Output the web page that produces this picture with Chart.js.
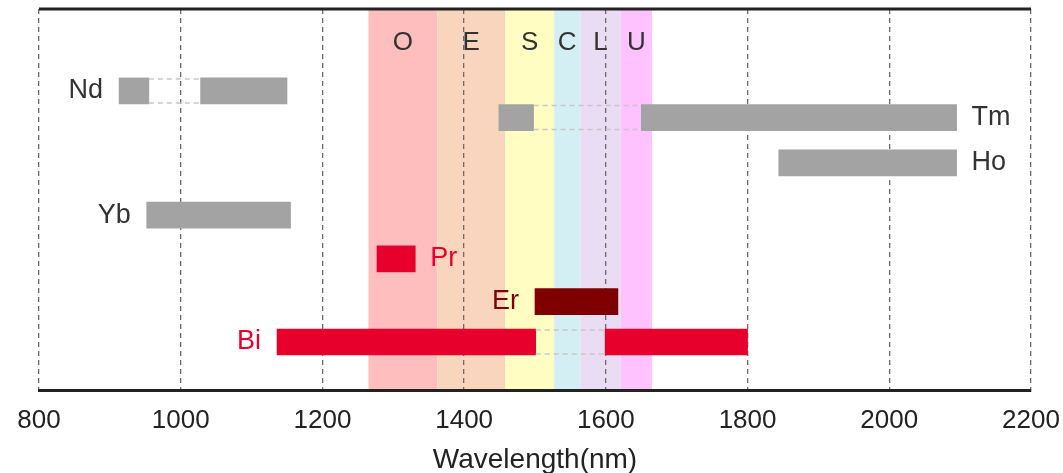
<!DOCTYPE html>
<html>
<head>
<meta charset="utf-8">
<script src="https://cdn.jsdelivr.net/npm/chart.js@4"></script>
<style>
  body { margin: 0; background: #fff; }
  #wrap { width: 1063px; height: 473px; }
</style>
</head>
<body>
<div id="wrap"><canvas id="myChart"></canvas></div>
<script>
// telecom bands (nm)
const bandNames = ["O", "E", "S", "C", "L", "U"];
const bandEdges = [1265, 1362, 1458, 1527, 1564, 1621, 1665];
const bandColors = ["#FFBEBE", "#F8D5BC", "#FFFDC2", "#D3EFF4", "#E9DCF3", "#FDC2FF"];

// dopants, their row level (top = 0) and gain ranges (nm)
const ions = ["Nd", "Tm", "Ho", "Yb", "Pr", "Er", "Bi"];
const ionLevel = [2.15, 2.85, 4.04, 5.41, 6.56, 7.68, 8.74];
const ionRanges = [
  [[913, 955], [1028, 1150]],
  [[1449, 1498], [1650, 2095]],
  [[1844, 2095]],
  [[952, 1155]],
  [[1277, 1331]],
  [[1500, 1617]],
  [[1136, 1501], [1599, 1800]]
];
const ionGroup = ["gray", "gray", "gray", "gray", "red", "dark", "red"];
const labelSide = ["left", "right", "right", "left", "right", "left", "left"];

const xTicks = [800, 1000, 1200, 1400, 1600, 1800, 2000, 2200];

const groupColors = { gray: "#A3A3A3", red: "#E8002D", dark: "#7F0000" };
const textColors = { gray: "#333333", red: "#E8002D", dark: "#7F0000" };
const FONT = "'Liberation Sans', Arial, sans-serif";
const BAR_H = 26;

// Build one bar dataset per colour group
function groupData(group) {
  const out = [];
  ions.forEach((ion, i) => {
    if (ionGroup[i] !== group) return;
    ionRanges[i].forEach((r) => out.push({ x: r, y: ionLevel[i] }));
  });
  return out;
}

const datasets = Object.keys(groupColors).map((g) => ({
  label: g,
  data: groupData(g),
  backgroundColor: groupColors[g],
  borderWidth: 0,
  barThickness: BAR_H,
  grouped: false
}));

// Coloured band backgrounds, drawn under the grid
const bandPlugin = {
  id: "bands",
  beforeDraw(chart) {
    const { ctx, chartArea, scales } = chart;
    ctx.save();
    bandNames.forEach((b, i) => {
      const x1 = scales.x.getPixelForValue(bandEdges[i]);
      const x2 = scales.x.getPixelForValue(bandEdges[i + 1]);
      ctx.fillStyle = bandColors[i];
      ctx.fillRect(x1, chartArea.top, x2 - x1, chartArea.bottom - chartArea.top);
    });
    ctx.restore();
  },
  afterDatasetsDraw(chart) {
    const { ctx, chartArea, scales } = chart;
    ctx.save();

    // dashed outline of the gaps between segments
    ctx.strokeStyle = "#C8C8C8";
    ctx.lineWidth = 1.5;
    ctx.setLineDash([5, 4]);
    ions.forEach((ion, i) => {
      const r = ionRanges[i];
      for (let k = 0; k < r.length - 1; k++) {
        const x1 = scales.x.getPixelForValue(r[k][1]);
        const x2 = scales.x.getPixelForValue(r[k + 1][0]);
        const yc = scales.y.getPixelForValue(ionLevel[i]);
        [yc - BAR_H / 2 + 1, yc + BAR_H / 2 - 1].forEach((y) => {
          ctx.beginPath();
          ctx.moveTo(x1, y);
          ctx.lineTo(x2, y);
          ctx.stroke();
        });
      }
    });
    ctx.setLineDash([]);

    // band letters
    ctx.font = "26px " + FONT;
    ctx.fillStyle = "#333333";
    ctx.textAlign = "center";
    ctx.textBaseline = "middle";
    bandNames.forEach((b, i) => {
      const x = scales.x.getPixelForValue((bandEdges[i] + bandEdges[i + 1]) / 2);
      ctx.fillText(b, x, scales.y.getPixelForValue(0.9));
    });

    // ion labels
    ctx.font = "27px " + FONT;
    ions.forEach((ion, i) => {
      const r = ionRanges[i];
      const yc = scales.y.getPixelForValue(ionLevel[i]);
      ctx.fillStyle = textColors[ionGroup[i]];
      if (labelSide[i] === "left") {
        ctx.textAlign = "right";
        ctx.fillText(ion, scales.x.getPixelForValue(r[0][0]) - 16, yc);
      } else {
        ctx.textAlign = "left";
        ctx.fillText(ion, scales.x.getPixelForValue(r[r.length - 1][1]) + 15, yc);
      }
    });

    // thick top frame line
    ctx.strokeStyle = "#222222";
    ctx.lineWidth = 3;
    ctx.beginPath();
    ctx.moveTo(chartArea.left, chartArea.top);
    ctx.lineTo(chartArea.right, chartArea.top);
    ctx.stroke();
    ctx.restore();
  }
};

const ctx = document.querySelector("#myChart").getContext("2d");
const myChart = new Chart(ctx, {
  type: "bar",
  data: { datasets: datasets },
  options: {
    indexAxis: "y",
    responsive: true,
    maintainAspectRatio: false,
    animation: false,
    layout: { padding: { left: 39, right: 32, top: 9, bottom: 0 } },
    plugins: { legend: { display: false }, tooltip: { enabled: false } },
    scales: {
      x: {
        type: "linear",
        min: 800,
        max: 2200,
        afterBuildTicks: (scale) => {
          scale.ticks = xTicks.map((v) => ({ value: v }));
        },
        afterFit: (scale) => {
          scale.height = 83;
          scale.paddingLeft = 0;
          scale.paddingRight = 0;
        },
        ticks: {
          color: "#222222",
          padding: 15,
          maxRotation: 0,
          autoSkip: false,
          font: { family: FONT, size: 26 },
          callback: (value) => String(value)
        },
        grid: { color: "#6A6A6A", lineWidth: 1.3, drawTicks: false },
        border: { display: true, color: "#222222", width: 3, dash: [5, 4] },
        title: {
          display: true,
          text: "Wavelength(nm)",
          color: "#222222",
          font: { family: FONT, size: 28, lineHeight: 1.0 },
          padding: { top: 0, bottom: -1 }
        }
      },
      y: {
        type: "linear",
        min: 0,
        max: 10,
        reverse: true,
        offset: false,
        display: false
      }
    }
  },
  plugins: [bandPlugin]
});
</script>
</body>
</html>
